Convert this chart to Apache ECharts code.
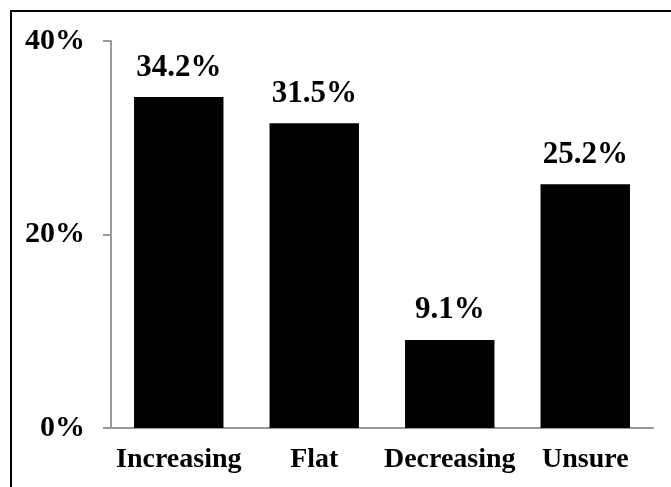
<!DOCTYPE html>
<html>
<head>
<meta charset="utf-8">
<script src="https://cdn.jsdelivr.net/npm/echarts@6/dist/echarts.min.js"></script>
<style>
  html, body { margin: 0; padding: 0; background: #fff; overflow: hidden; }
  #frame { position: absolute; left: 10px; top: 10px; width: 700px; height: 520px; border: 2px solid #000; }
  #main { position: absolute; left: 0; top: 0; width: 671px; height: 487px; }
</style>
</head>
<body>
<div id="frame"></div>
<div id="main"></div>
<script>
var categories = ['Increasing', 'Flat', 'Decreasing', 'Unsure'];
var values = [34.2, 31.5, 9.1, 25.2];
var yTicks = [0, 20, 40];

var chart = echarts.init(document.getElementById('main'));
var font = '"Liberation Serif", "Times New Roman", serif';

chart.setOption({
    animation: false,
    grid: { left: 111, right: 18, top: 41, bottom: 59 },
    xAxis: {
        type: 'category',
        data: categories,
        axisLine: { lineStyle: { color: '#999', width: 2 } },
        axisTick: { show: false },
        axisLabel: { interval: 0, color: '#000', fontFamily: font, fontWeight: 'bold', fontSize: 28, margin: 18 }
    },
    yAxis: {
        type: 'value',
        min: yTicks[0],
        max: yTicks[yTicks.length - 1],
        interval: yTicks[1] - yTicks[0],
        axisLine: { show: true, lineStyle: { color: '#999', width: 2 } },
        axisTick: { show: true, length: 8, lineStyle: { color: '#999', width: 2 } },
        splitLine: { show: false },
        axisLabel: {
            color: '#000', fontFamily: font, fontWeight: 'bold', fontSize: 30, margin: 26,
            formatter: function (v) { return v + '%'; }
        }
    },
    series: [{
        type: 'bar',
        data: values,
        barWidth: '66%',
        itemStyle: { color: '#000' },
        label: {
            show: true,
            position: 'top',
            distance: 14,
            color: '#000',
            fontFamily: font,
            fontWeight: 'bold',
            fontSize: 31,
            formatter: function (p) { return p.value.toFixed(1) + '%'; }
        }
    }]
});
</script>
</body>
</html>
